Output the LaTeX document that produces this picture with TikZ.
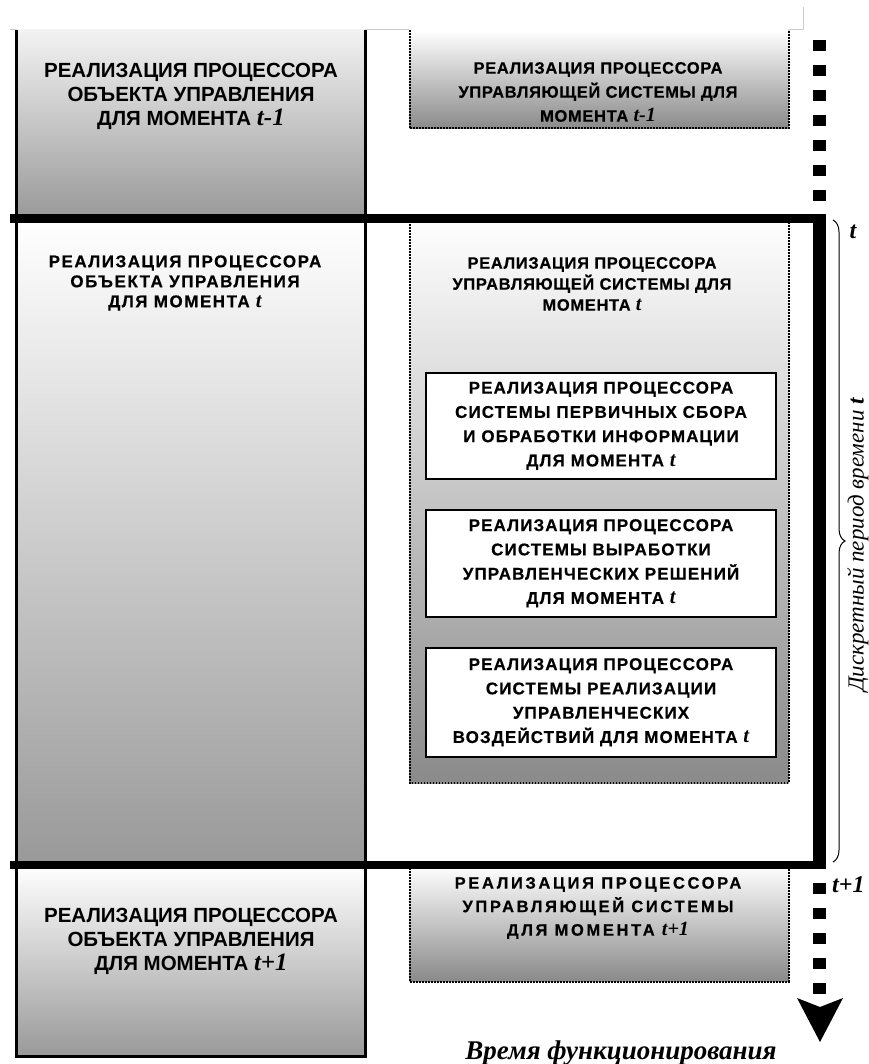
\documentclass[tikz,border=0pt]{standalone}
\usepackage{fontspec}
\setmainfont{Liberation Sans}
\newfontfamily\serifface{Liberation Serif}
\newfontfamily\tface{Liberation Serif}[Scale=1.22]
\newfontfamily\sansplain{Liberation Sans}
\newfontfamily\sansA{Liberation Sans}[LetterSpace=4, FakeBold=0.5]
\newfontfamily\sansB{Liberation Sans}[LetterSpace=9, FakeBold=0.5]
\newfontfamily\sansC{Liberation Sans}[LetterSpace=6.5, FakeBold=0.5]
\newfontfamily\sansD{Liberation Sans}[LetterSpace=16, FakeBold=0.5]
\newcommand\tv[1]{{\tface\bfseries\itshape #1}}
\usetikzlibrary{decorations.pathreplacing}
\definecolor{lightpanel}{gray}{0.95}
\definecolor{objbottom}{gray}{0.60}
\definecolor{ctlbottom}{gray}{0.54}
\begin{document}
\begin{tikzpicture}[x=1pt,y=-1pt,
  objtext/.style={align=center, inner sep=0pt,
    font=\sansplain\bfseries\fontsize{20.5}{24}\selectfont},
  objmid/.style={align=center, inner sep=0pt,
    font=\sansB\bfseries\fontsize{17}{20}\selectfont},
  ctltext/.style={align=center, inner sep=0pt,
    font=\sansA\bfseries\fontsize{16.5}{24}\selectfont},
  ctlmid/.style={align=center, inner sep=0pt,
    font=\sansA\bfseries\fontsize{16.5}{21}\selectfont},
  ctllow/.style={align=center, inner sep=0pt,
    font=\sansD\bfseries\fontsize{16.5}{23.5}\selectfont},
  subtext/.style={align=center, inner sep=0pt,
    font=\sansC\bfseries\fontsize{17}{24.3}\selectfont},
  solidedge/.style={line width=2.5pt},
  dotedge/.style={line width=2pt, dash pattern=on 1.6pt off 1.4pt},
  subbox/.style={draw, line width=2pt, fill=white},
  thickrule/.style={line width=8.5pt},
  timeaxis/.style={line width=13pt, dash pattern=on 11pt off 14pt},
  serifnote/.style={inner sep=0pt, font=\serifface\bfseries\itshape\fontsize{24}{26}\selectfont}
]
\useasboundingbox (0,0) rectangle (868,1064);
\fill[white] (0,0) rectangle (868,1064);

% faint page edge
\draw[gray!40, line width=1pt] (10,30) -- (803,30) -- (803,7);

% ---- object column (left) ----
\shade[top color=lightpanel, bottom color=objbottom] (16.5,30) rectangle (365.5,218);
\shade[top color=white, bottom color=objbottom] (16.5,218) rectangle (365.5,865);
\shade[top color=white, bottom color=objbottom] (16.5,865) rectangle (365.5,1056.5);
\draw[solidedge] (16.5,30) -- (16.5,1056.5) -- (365.5,1056.5) -- (365.5,30);

% ---- control column (right) ----
\shade[top color=white, bottom color=ctlbottom] (409.5,30) rectangle (788.5,128.5);
\draw[dotedge] (409.5,30) -- (409.5,128.5) -- (788.5,128.5) -- (788.5,30);

\shade[top color=white, bottom color=ctlbottom] (409.5,218) rectangle (788.5,783);
\draw[dotedge] (409.5,218) -- (409.5,783) -- (788.5,783) -- (788.5,218);

\shade[top color=white, bottom color=ctlbottom] (409.5,865) rectangle (788.5,981.5);
\draw[dotedge] (409.5,865) -- (409.5,981.5) -- (788.5,981.5) -- (788.5,865);

% ---- subsystems of the control processor ----
\node[subbox, minimum width=350pt, minimum height=105.5pt, anchor=north west] (subA) at (425,372) {};
\node[subbox, minimum width=350pt, minimum height=107.5pt, anchor=north west] (subB) at (425,508.5) {};
\node[subbox, minimum width=350pt, minimum height=109.5pt, anchor=north west] (subC) at (425,646.5) {};

% ---- discrete period frame ----
\coordinate (frameTL) at (10,218.5);
\coordinate (frameTR) at (813,218.5);
\coordinate (frameBL) at (10,865);
\coordinate (frameBR) at (813,865);
\coordinate (barTop) at (819.5,214);
\coordinate (barBot) at (819.5,869);
\draw[thickrule] (frameTL) -- (frameTR);
\draw[thickrule] (frameBL) -- (frameBR);
\draw[line width=13pt] (barTop) -- (barBot);

% ---- time axis ----
\coordinate (axisA) at (819.5,40);
\coordinate (axisB) at (819.5,214);
\coordinate (axisC) at (819.5,883);
\coordinate (axisD) at (819.5,996);
\draw[timeaxis] (axisA) -- (axisB);
\draw[timeaxis] (axisC) -- (axisD);
\fill (797,998) -- (820,1007) -- (843,998) -- (820,1042) -- cycle;
\node[inner sep=0pt, font=\serifface\bfseries\itshape\fontsize{27}{30}\selectfont, anchor=base]
  (axislabel) at (621,1059) {Время функционирования};

% ---- period brace ----
\coordinate (braceTop) at (833,220);
\coordinate (braceBot) at (833,862);
\draw[line width=1pt, decorate, decoration={brace, amplitude=12pt}] (braceTop) -- (braceBot);
\node[serifnote] (tnow) at (853,232) {t};
\node[serifnote, anchor=west] (tnext) at (832,885) {t+1};
\node[rotate=90, inner sep=0pt, font=\serifface\itshape\fontsize{23}{26}\selectfont]
  (periodlabel) at (858,545) {Дискретный период времени \textbf{t}};

% ---- texts ----
\node[objtext] (objPrev) at (191,96) {РЕАЛИЗАЦИЯ ПРОЦЕССОРА\\ОБЪЕКТА УПРАВЛЕНИЯ\\ДЛЯ МОМЕНТА \tv{t-1}};
\node[objmid] (objNow) at (185,283) {РЕАЛИЗАЦИЯ ПРОЦЕССОРА\\ОБЪЕКТА УПРАВЛЕНИЯ\\ДЛЯ МОМЕНТА \tv{t}};
\node[objtext] (objNext) at (191,941) {РЕАЛИЗАЦИЯ ПРОЦЕССОРА\\ОБЪЕКТА УПРАВЛЕНИЯ\\ДЛЯ МОМЕНТА \tv{t+1}};

\node[ctltext] (ctlPrev) at (598,92) {РЕАЛИЗАЦИЯ ПРОЦЕССОРА\\УПРАВЛЯЮЩЕЙ СИСТЕМЫ ДЛЯ\\МОМЕНТА \tv{t-1}};
\node[ctlmid] (ctlNow) at (592,284) {РЕАЛИЗАЦИЯ ПРОЦЕССОРА\\УПРАВЛЯЮЩЕЙ СИСТЕМЫ ДЛЯ\\МОМЕНТА \tv{t}};
\node[ctllow] (ctlNext) at (598,908) {РЕАЛИЗАЦИЯ ПРОЦЕССОРА\\УПРАВЛЯЮЩЕЙ СИСТЕМЫ\\ДЛЯ МОМЕНТА \tv{t+1}};

\node[subtext] at (subA) {РЕАЛИЗАЦИЯ ПРОЦЕССОРА\\СИСТЕМЫ ПЕРВИЧНЫХ СБОРА\\И ОБРАБОТКИ ИНФОРМАЦИИ\\ДЛЯ МОМЕНТА \tv{t}};
\node[subtext] at (subB) {РЕАЛИЗАЦИЯ ПРОЦЕССОРА\\СИСТЕМЫ ВЫРАБОТКИ\\УПРАВЛЕНЧЕСКИХ РЕШЕНИЙ\\ДЛЯ МОМЕНТА \tv{t}};
\node[subtext] at (subC) {РЕАЛИЗАЦИЯ ПРОЦЕССОРА\\СИСТЕМЫ РЕАЛИЗАЦИИ\\УПРАВЛЕНЧЕСКИХ\\ВОЗДЕЙСТВИЙ ДЛЯ МОМЕНТА \tv{t}};
\end{tikzpicture}
\end{document}
